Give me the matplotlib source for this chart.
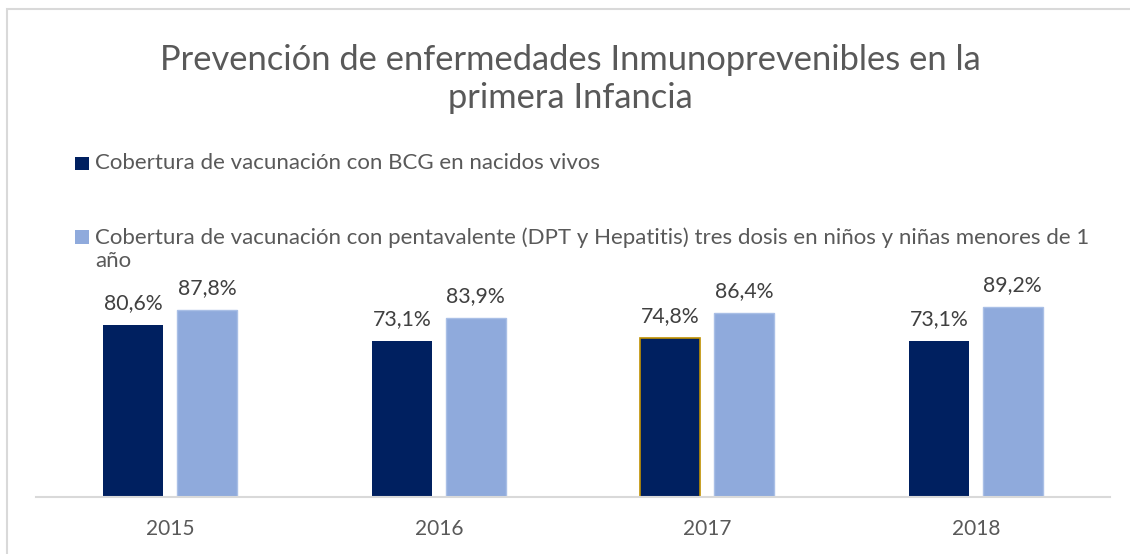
import matplotlib.pyplot as plt
from matplotlib.patches import Rectangle
import numpy as np

plt.rcParams["font.family"] = ["Lato", "DejaVu Sans"]

years = ["2015", "2016", "2017", "2018"]
bcg = [80.6, 73.1, 74.8, 73.1]
penta = [87.8, 83.9, 86.4, 89.2]
series_labels = [
    "Cobertura de vacunación con BCG en nacidos vivos",
    "Cobertura de vacunación con pentavalente (DPT y Hepatitis) tres dosis en niños y niñas menores de 1\naño",
]
title = "Prevención de enfermedades Inmunoprevenibles en la\nprimera Infancia"

dark = "#002060"
light = "#8FAADC"
grey_txt = "#595959"

W, H = 1130, 554
fig = plt.figure(figsize=(W / 100, H / 100), dpi=100)

# cadre gris autour du graphique
fig.patches.append(Rectangle((7 / W, -0.1), 1.2, (H - 9) / H + 0.1, transform=fig.transFigure,
                             fill=False, edgecolor="#D9D9D9", linewidth=1.5))

ax = fig.add_axes([36 / W, 57 / H, (1110 - 36) / W, 213 / H])
x = np.arange(len(years))
w = 0.2235
off = 0.137
b1 = ax.bar(x - off, bcg, w, color=dark)
b2 = ax.bar(x + off, penta, w, color=light, edgecolor="#A9BFE6", linewidth=1)
b1[2].set_edgecolor("#BF9000")
b1[2].set_linewidth(1.2)

for bars, vals in ((b1, bcg), (b2, penta)):
    for r, v in zip(bars, vals):
        ax.annotate(f"{v:.1f}%".replace(".", ","), (r.get_x() + r.get_width() / 2, v),
                    xytext=(0, 8.5), textcoords="offset points", ha="center", va="bottom",
                    fontsize=15.3, color="#404040")

ax.set_xlim(-0.5, len(years) - 0.5)
ax.set_ylim(0, 100)
ax.set_xticks(x)
ax.set_xticklabels(years, fontsize=15, color=grey_txt)
ax.tick_params(axis="x", length=0, pad=16)
ax.set_yticks([])
for s in ["top", "right", "left"]:
    ax.spines[s].set_visible(False)
ax.spines["bottom"].set_color("#D9D9D9")
ax.spines["bottom"].set_linewidth(1.5)

# titre
fig.text(570 / W, 1 - 79 / H, title, ha="center", va="center", fontsize=24.8,
         color=grey_txt, linespacing=1.26)

# légende
fig.patches.append(Rectangle((75 / W, 1 - 170 / H), 14 / W, 13 / H, transform=fig.transFigure,
                             facecolor=dark, edgecolor="none"))
fig.text(95 / W, 1 - 163 / H, series_labels[0], ha="left", va="center", fontsize=16, color=grey_txt)
fig.patches.append(Rectangle((75 / W, 1 - 244 / H), 14 / W, 14 / H, transform=fig.transFigure,
                             facecolor=light, edgecolor="none"))
fig.text(95 / W, 1 - 249 / H, series_labels[1], ha="left", va="center", fontsize=16, color=grey_txt,
         linespacing=1.2)

fig.savefig("out.png", dpi=100)
